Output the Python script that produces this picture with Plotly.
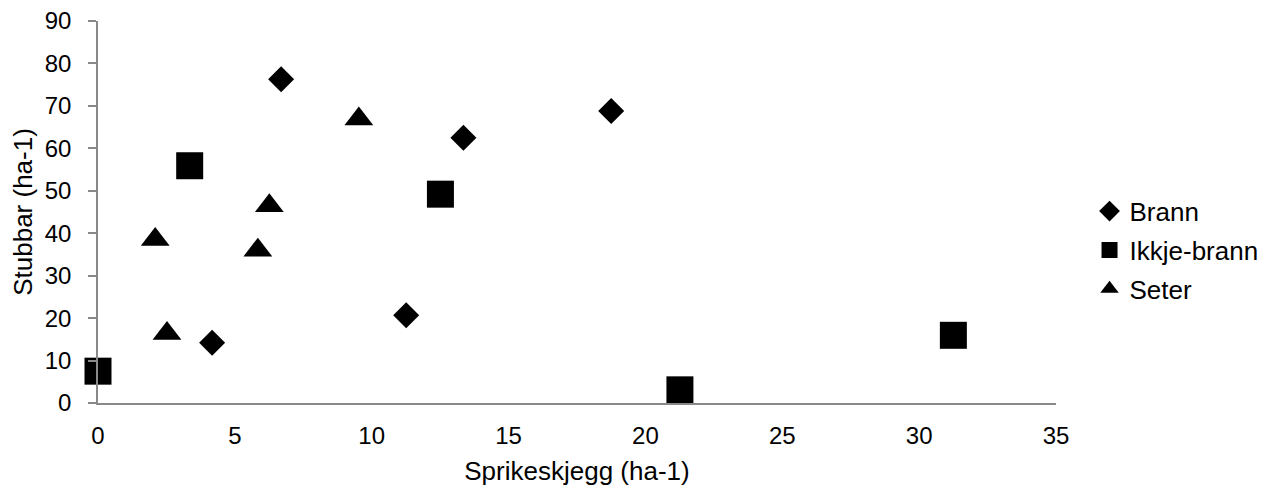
import plotly.graph_objects as go

# Brann
brann_x = [6.69, 4.17, 11.26, 13.35, 18.75]
brann_y = [76.3, 14.2, 20.7, 62.5, 68.8]

# Ikkje-brann
ikkje_x = [0.0, 3.35, 12.51, 21.26, 31.25]
ikkje_y = [7.5, 55.9, 49.2, 3.1, 15.95]

# Seter
seter_x = [2.09, 2.52, 5.84, 6.26, 9.53]
seter_y = [38.5, 16.4, 36.0, 46.5, 66.9]

x_ticks = [0, 5, 10, 15, 20, 25, 30, 35]
y_ticks = [0, 10, 20, 30, 40, 50, 60, 70, 80, 90]

FONT = "Liberation Sans, Arial, sans-serif"
AXIS_GREY = "#898989"

fig = go.Figure()
fig.add_trace(go.Scatter(x=brann_x, y=brann_y, mode="markers", name="Brann",
                         legendgroup="a", cliponaxis=False,
                         marker=dict(symbol="diamond", size=20, color="black")))
fig.add_trace(go.Scatter(x=ikkje_x, y=ikkje_y, mode="markers", name="Ikkje-brann",
                         legendgroup="b", cliponaxis=False,
                         marker=dict(symbol="square", size=27, color="black")))
fig.add_trace(go.Scatter(x=seter_x, y=seter_y, mode="markers", name="Seter",
                         legendgroup="c", cliponaxis=False,
                         marker=dict(symbol="triangle-up", size=25, color="black")))

# page body has an 8px margin, so the figure is a bit smaller than the window
fig.update_layout(
    width=1273, height=482,
    margin=dict(l=90, r=225, t=13, b=87),
    paper_bgcolor="white", plot_bgcolor="white",
    font=dict(family=FONT, size=24, color="black"),
    legend=dict(x=1.035, xanchor="left", y=0.40, yanchor="middle",
                itemsizing="trace", itemwidth=30, tracegroupgap=2,
                font=dict(size=26)),
)
fig.update_xaxes(range=[0, 35], tickvals=x_ticks, showgrid=False, zeroline=False,
                 showline=True, linecolor=AXIS_GREY, linewidth=1.5,
                 ticks="", ticklabelstandoff=10, automargin=False,
                 ticklabeloverflow="allow", tickfont=dict(size=24),
                 title=dict(text="Sprikeskjegg (ha-1)", standoff=14, font=dict(size=26)))
fig.update_yaxes(range=[0, 90], tickvals=y_ticks, showgrid=False, zeroline=False,
                 showline=True, linecolor=AXIS_GREY, linewidth=1.5,
                 ticks="outside", ticklen=8, tickcolor=AXIS_GREY, tickwidth=1.5,
                 ticklabelstandoff=12, automargin=False,
                 ticklabeloverflow="allow", tickfont=dict(size=24),
                 title=dict(text="Stubbar (ha-1)", standoff=8, font=dict(size=26)))

fig.write_html("out.html")
